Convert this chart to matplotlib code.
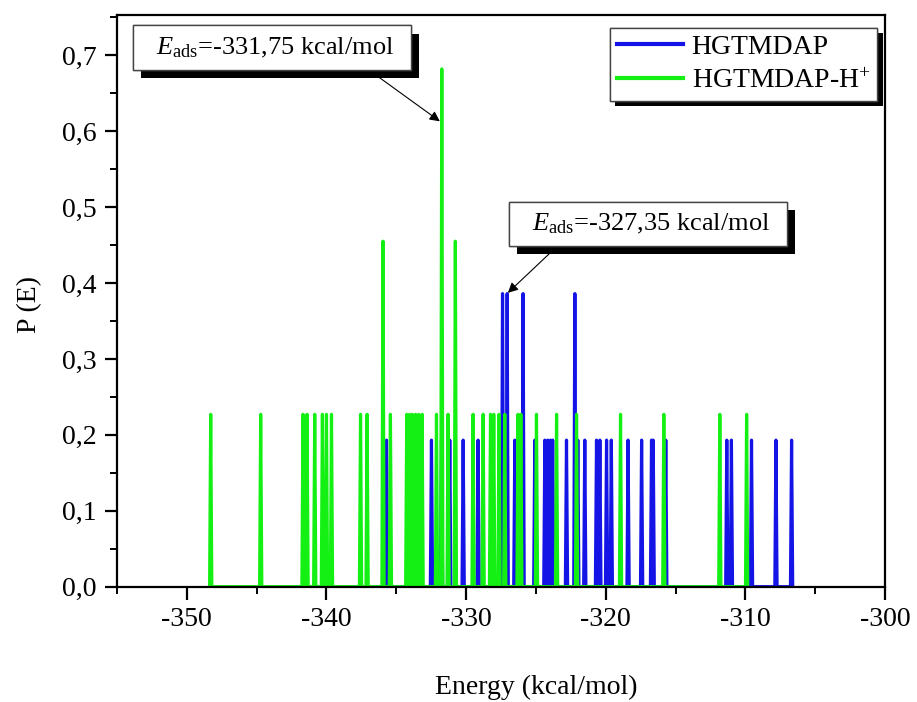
import matplotlib
matplotlib.use("Agg")
import matplotlib.pyplot as plt
import matplotlib.patheffects as pe
from matplotlib.ticker import MultipleLocator, FuncFormatter

plt.rcParams['font.family'] = ['Liberation Serif', 'DejaVu Serif']
plt.rcParams['mathtext.fontset'] = 'custom'
plt.rcParams['mathtext.rm'] = 'Liberation Serif'
plt.rcParams['mathtext.it'] = 'Liberation Serif:italic'

# HGTMDAP (blue) peaks: energy (kcal/mol) and probability
blue_E = [-335.70, -332.48, -331.76, -331.17, -330.21, -329.14, -327.39, -327.06,
          -326.51, -325.92, -325.08, -324.36, -324.15, -323.95, -323.80, -322.81,
          -322.21, -322.00, -321.50, -320.66, -320.42, -319.94, -319.60, -318.40,
          -317.43, -316.72, -316.60, -315.70, -311.33, -311.00, -309.56, -307.81,
          -306.69]
blue_P = [0.193, 0.193, 0.193, 0.193, 0.193, 0.193, 0.386, 0.386,
          0.193, 0.386, 0.193, 0.193, 0.193, 0.193, 0.193, 0.193,
          0.386, 0.193, 0.193, 0.193, 0.193, 0.193, 0.193, 0.193,
          0.193, 0.193, 0.193, 0.193, 0.193, 0.193, 0.193, 0.193,
          0.193]

# HGTMDAP-H+ (green) peaks
green_E = [-348.29, -344.71, -341.68, -341.39, -340.84, -340.29, -340.00, -339.64,
           -337.56, -337.09, -335.95, -335.42, -334.25, -334.05, -333.85, -333.62,
           -333.40, -333.15, -332.12, -331.74, -331.29, -330.77, -329.50, -328.78,
           -328.25, -328.02, -327.64, -327.23, -326.28, -326.08, -324.96, -323.52,
           -322.09, -318.94, -315.84, -311.83, -309.91]
green_P = [0.227, 0.227, 0.227, 0.227, 0.227, 0.227, 0.227, 0.227,
           0.227, 0.227, 0.455, 0.227, 0.227, 0.227, 0.227, 0.227,
           0.227, 0.227, 0.227, 0.682, 0.227, 0.455, 0.227, 0.227,
           0.227, 0.227, 0.227, 0.227, 0.227, 0.227, 0.227, 0.227,
           0.227, 0.227, 0.227, 0.227, 0.227]


def spikes(E, P, hw=0.08):
    xs, ys = [], []
    for e, p in zip(E, P):
        xs += [e - hw, e, e + hw]
        ys += [0, p, 0]
    return xs, ys


fig = plt.figure(figsize=(9.17, 7.02), dpi=100)
ax = fig.add_axes([0.1276, 0.1643, 0.8375, 0.8143])

bx, by = spikes(blue_E, blue_P)
gx, gy = spikes(green_E, green_P)
ax.plot(bx, by, color='#1414e6', lw=2.3, label='HGTMDAP')
ax.plot(gx, gy, color='#14f014', lw=2.3, label='HGTMDAP-H$^{+}$')

ax.set_xlim(-355, -300)
ax.set_ylim(0, 0.753)
ax.xaxis.set_major_locator(MultipleLocator(10))
ax.xaxis.set_minor_locator(MultipleLocator(5))
ax.yaxis.set_major_locator(MultipleLocator(0.1))
ax.yaxis.set_minor_locator(MultipleLocator(0.05))
ax.yaxis.set_major_formatter(FuncFormatter(lambda v, p: ('%.1f' % v).replace('.', ',')))
ax.xaxis.set_major_formatter(FuncFormatter(lambda v, p: '%d' % v))

for s in ax.spines.values():
    s.set_linewidth(1.6)
ax.tick_params(which='major', direction='out', length=9, width=1.6, labelsize=20, pad=6)
ax.tick_params(which='minor', direction='out', length=5, width=1.4)

ax.set_xlabel('Energy (kcal/mol)', fontsize=20)
ax.set_ylabel('P (E)', fontsize=20)
ax.xaxis.set_label_coords(0.5456, -0.155)
ax.yaxis.set_label_coords(-0.098, 0.493)

leg = ax.legend(loc='upper right', bbox_to_anchor=(0.99, 0.978), fontsize=20,
                fancybox=False, edgecolor='#444444', framealpha=1,
                handlelength=2.4, handletextpad=0.3, labelspacing=0.3,
                borderpad=0.25, borderaxespad=0)
leg.get_frame().set_linewidth(1.0)
leg.get_frame().set_path_effects([pe.withSimplePatchShadow(offset=(4, -4), shadow_rgbFace='k', alpha=1), pe.Normal()])
for h in leg.get_lines():
    h.set_linewidth(3)

shadow = [pe.withSimplePatchShadow(offset=(6, -6), shadow_rgbFace='k', alpha=1), pe.Normal()]

t1 = ax.annotate(r'  $\mathit{E}_{\mathrm{ads}}$=-331,75 kcal/mol  ', xy=(-331.88, 0.613),
                 xytext=(0.2966, 0.9323), textcoords='figure fraction',
                 ha='center', va='center', fontsize=19,
                 bbox=dict(boxstyle='square,pad=0.38', fc='white', ec='#444444', lw=1.0),
                 arrowprops=dict(arrowstyle='-|>', color='k', lw=0.8, relpos=(0.82, 0),
                                 shrinkA=0, shrinkB=0, mutation_scale=15))
t1.get_bbox_patch().set_path_effects(shadow)

t2 = ax.annotate(r'  $\mathit{E}_{\mathrm{ads}}$=-327,35 kcal/mol  ', xy=(-327.01, 0.387),
                 xytext=(0.7067, 0.681), textcoords='figure fraction',
                 ha='center', va='center', fontsize=19,
                 bbox=dict(boxstyle='square,pad=0.38', fc='white', ec='#444444', lw=1.0),
                 arrowprops=dict(arrowstyle='-|>', color='k', lw=0.8, relpos=(0.19, 0),
                                 shrinkA=0, shrinkB=0, mutation_scale=15))
t2.get_bbox_patch().set_path_effects(shadow)

fig.savefig('out.png', dpi=100)
